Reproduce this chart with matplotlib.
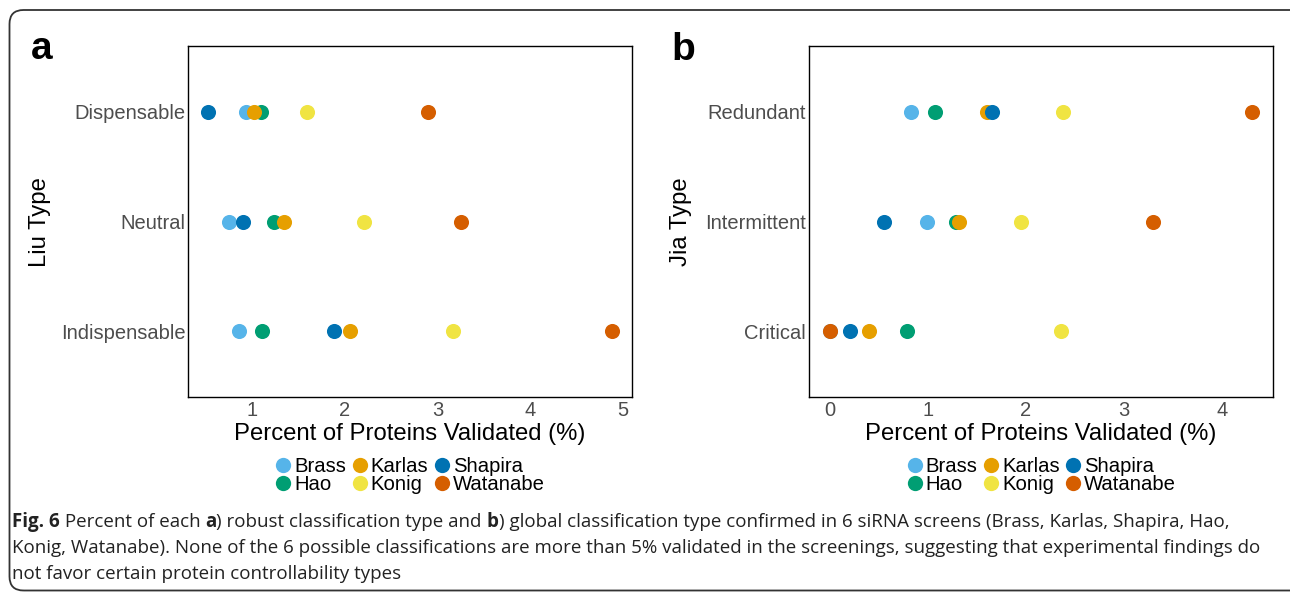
import matplotlib
matplotlib.use("Agg")
import matplotlib.pyplot as plt
from matplotlib.patches import FancyBboxPatch
from matplotlib.transforms import IdentityTransform
from matplotlib.lines import Line2D

plt.rcParams['font.family'] = ['Liberation Sans', 'DejaVu Sans']

# screens, in drawing order (alphabetical, as ggplot draws them)
screens = ['Brass', 'Hao', 'Karlas', 'Konig', 'Shapira', 'Watanabe']
colores = {'Brass': '#56B4E9', 'Hao': '#009E73', 'Karlas': '#E69F00',
           'Konig': '#F0E442', 'Shapira': '#0072B2', 'Watanabe': '#D55E00'}

# panel a: Liu type
liu_tipos = ['Dispensable', 'Neutral', 'Indispensable']
liu_vals = {
    'Brass':    [0.94, 0.75, 0.86],
    'Hao':      [1.10, 1.24, 1.11],
    'Karlas':   [1.02, 1.35, 2.06],
    'Konig':    [1.59, 2.21, 3.17],
    'Shapira':  [0.53, 0.90, 1.89],
    'Watanabe': [2.90, 3.26, 4.88],
}

# panel b: Jia type
jia_tipos = ['Redundant', 'Intermittent', 'Critical']
jia_vals = {
    'Brass':    [0.83, 0.99, 0.00],
    'Hao':      [1.07, 1.29, 0.79],
    'Karlas':   [1.60, 1.32, 0.40],
    'Konig':    [2.38, 1.95, 2.36],
    'Shapira':  [1.65, 0.55, 0.20],
    'Watanabe': [4.31, 3.30, 0.00],
}

W, H = 1290, 592
fig = plt.figure(figsize=(W / 100, H / 100), dpi=100)


def panel(rect, tipos, vals, ylabel, ylab_x):
    ax = fig.add_axes(rect)
    for s in screens:
        ax.scatter(vals[s], range(len(tipos)), s=118, color=colores[s],
                   linewidths=0, zorder=3)
    ax.margins(x=0.05)
    ax.set_ylim(len(tipos) - 0.4, -0.6)
    ax.set_yticks(range(len(tipos)), tipos)
    ax.tick_params(length=0, labelsize=14.5, labelcolor='#4D4D4D')
    ax.tick_params(axis='x', pad=3)
    ax.tick_params(axis='y', pad=2)
    for sp in ax.spines.values():
        sp.set_linewidth(1.0)
    ax.set_xlabel('Percent of Proteins Validated (%)', fontsize=17.2)
    ax.xaxis.set_label_coords(0.5, -0.072)
    fig.text(ylab_x / W, 1 - 222 / H, ylabel, rotation=90, fontsize=17.2,
             ha='center', va='center')
    handles = [Line2D([], [], marker='o', linestyle='none', markersize=11,
                      markerfacecolor=colores[s], markeredgewidth=0)
               for s in screens]
    ax.legend(handles, screens, loc='center', bbox_to_anchor=(0.5, -0.222),
              ncol=3, frameon=False, fontsize=14.6, handlelength=0.8,
              handletextpad=0.15, columnspacing=0.25, labelspacing=-0.05,
              borderpad=0)
    return ax


panel([188.3 / W, 1 - 397.3 / H, 443.4 / W, 351.6 / H],
      liu_tipos, liu_vals, 'Liu Type', 40)
panel([809 / W, 1 - 397.3 / H, 464.3 / W, 351.6 / H],
      jia_tipos, jia_vals, 'Jia Type', 681)

fig.text(31 / W, 1 - 59 / H, 'a', fontsize=28, fontweight='bold', va='baseline')
fig.text(671 / W, 1 - 60 / H, 'b', fontsize=28, fontweight='bold', va='baseline')

# borde redondeado de la figura
caja = FancyBboxPatch((9.5, 1.5), 1300, 580.5, boxstyle='round,pad=0,rounding_size=14',
                      transform=IdentityTransform(), fill=False,
                      edgecolor='#333333', linewidth=1.3)
fig.patches.append(caja)

# caption
renderer = fig.canvas.get_renderer()
lineas = [
    [('Fig. 6', True), (' Percent of each ', False), ('a', True),
     (') robust classification type and ', False), ('b', True),
     (') global classification type confirmed in 6 siRNA screens (Brass, Karlas, Shapira, Hao,', False)],
    [('Konig, Watanabe). None of the 6 possible classifications are more than 5% validated in the screenings, suggesting that experimental findings do', False)],
    [('not favor certain protein controllability types', False)],
]
base_y = [527, 553, 579]
for partes, yb in zip(lineas, base_y):
    x = 12
    for txt, negrita in partes:
        t = fig.text(x / W, 1 - yb / H, txt, fontsize=13.5,
                     family=['Open Sans', 'DejaVu Sans'],
                     fontweight='bold' if negrita else 'normal',
                     va='baseline', color='#222222')
        x += t.get_window_extent(renderer).width

fig.savefig('out.png', dpi=100)
